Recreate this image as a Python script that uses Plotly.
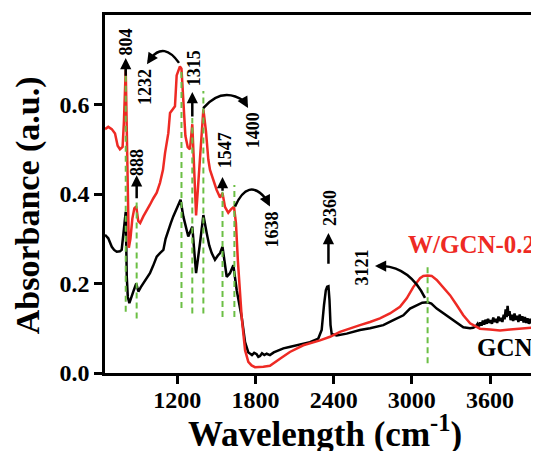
import plotly.graph_objects as go

# ---------------- data ----------------
wn_gcn = [645, 670, 697, 715, 735, 760, 773, 786, 804, 812, 820, 832, 851, 866, 885, 901, 920, 939,
          965, 990, 1015, 1042, 1067, 1093, 1110, 1131, 1150, 1169, 1200, 1225, 1246, 1265, 1284,
          1315, 1330, 1344, 1374, 1400, 1426, 1445, 1464, 1489, 1510, 1528, 1547, 1560, 1579, 1604,
          1630, 1656, 1694, 1720, 1745, 1760, 1773, 1790, 1809, 1822, 1835, 1850, 1868, 1886, 1911,
          1940, 1975, 2014, 2060, 2116, 2170, 2218, 2282, 2308, 2326, 2340, 2350, 2360, 2368, 2376,
          2385, 2423, 2500, 2550, 2602, 2679, 2781, 2858, 2935, 2986, 3037, 3080, 3121, 3150, 3191,
          3242, 3293, 3344, 3395, 3447, 3470, 3490, 3505, 3515, 3525, 3535, 3545, 3555, 3565, 3575,
          3585, 3595, 3605, 3615, 3625, 3635, 3645, 3655, 3665, 3675, 3685, 3695, 3705, 3712, 3720,
          3728, 3735, 3742, 3750, 3758, 3768, 3778, 3788, 3798, 3808, 3818, 3828, 3838, 3848, 3858,
          3868, 3878, 3888, 3898, 3910, 3920, 3932, 3945, 3958, 3970]
abs_gcn = [0.309, 0.301, 0.282, 0.275, 0.271, 0.272, 0.275, 0.305, 0.360, 0.215, 0.170, 0.156, 0.170,
           0.185, 0.200, 0.182, 0.192, 0.200, 0.210, 0.223, 0.240, 0.260, 0.268, 0.275, 0.300, 0.320,
           0.335, 0.350, 0.372, 0.387, 0.350, 0.330, 0.305, 0.327, 0.270, 0.223, 0.290, 0.353, 0.312,
           0.285, 0.268, 0.253, 0.262, 0.268, 0.282, 0.250, 0.215, 0.223, 0.241, 0.185, 0.125, 0.069,
           0.046, 0.043, 0.040, 0.045, 0.042, 0.036, 0.038, 0.044, 0.040, 0.043, 0.040, 0.046, 0.051,
           0.055, 0.058, 0.062, 0.066, 0.069, 0.077, 0.096, 0.152, 0.185, 0.193, 0.194, 0.163, 0.107,
           0.087, 0.084, 0.088, 0.092, 0.096, 0.100, 0.107, 0.118, 0.129, 0.144, 0.152, 0.157, 0.158,
           0.155, 0.144, 0.133, 0.122, 0.111, 0.102, 0.100, 0.101, 0.104, 0.110, 0.104, 0.113, 0.106,
           0.117, 0.108, 0.119, 0.110, 0.121, 0.112, 0.118, 0.110, 0.124, 0.114, 0.121, 0.112, 0.126,
           0.116, 0.123, 0.114, 0.130, 0.120, 0.142, 0.125, 0.150, 0.128, 0.138, 0.118, 0.130, 0.116,
           0.133, 0.119, 0.128, 0.114, 0.131, 0.117, 0.127, 0.113, 0.125, 0.112, 0.122, 0.110, 0.121,
           0.111, 0.118, 0.109, 0.115, 0.108]

wn_wgcn = [645, 670, 697, 722, 742, 760, 780, 790, 804, 812, 820, 828, 840, 855, 870, 885, 900, 915,
           939, 965, 990, 1015, 1042, 1067, 1090, 1106, 1131, 1144, 1165, 1182, 1195, 1220, 1232,
           1246, 1262, 1280, 1297, 1315, 1328, 1344, 1360, 1374, 1400, 1420, 1438, 1451, 1476, 1502,
           1528, 1547, 1566, 1591, 1610, 1635, 1650, 1665, 1694, 1720, 1745, 1770, 1796, 1830, 1860,
           1911, 1963, 1988, 2064, 2167, 2295, 2372, 2448, 2525, 2602, 2679, 2755, 2832, 2909, 2961,
           3011, 3063, 3088, 3121, 3152, 3191, 3242, 3293, 3344, 3395, 3447, 3523, 3600, 3677, 3754,
           3856, 3958]
abs_wgcn = [0.545, 0.550, 0.545, 0.535, 0.508, 0.500, 0.505, 0.560, 0.678, 0.520, 0.360, 0.280, 0.300,
            0.345, 0.368, 0.372, 0.340, 0.335, 0.350, 0.362, 0.376, 0.390, 0.403, 0.425, 0.454, 0.492,
            0.536, 0.581, 0.590, 0.596, 0.665, 0.685, 0.680, 0.611, 0.530, 0.505, 0.500, 0.556, 0.448,
            0.352, 0.420, 0.477, 0.589, 0.540, 0.477, 0.454, 0.432, 0.409, 0.392, 0.402, 0.371, 0.358,
            0.365, 0.372, 0.335, 0.250, 0.125, 0.051, 0.025, 0.017, 0.013, 0.013, 0.014, 0.016, 0.028,
            0.032, 0.047, 0.062, 0.073, 0.081, 0.092, 0.100, 0.107, 0.114, 0.122, 0.133, 0.148, 0.167,
            0.192, 0.212, 0.217, 0.218, 0.217, 0.208, 0.192, 0.174, 0.152, 0.129, 0.111, 0.099, 0.097,
            0.095, 0.097, 0.100, 0.102]

# marked peaks
peak_labels = ["804", "888", "1232", "1315", "1400", "1547", "1638", "3121"]
peak_wn = [804, 888, 1232, 1315, 1400, 1547, 1638, 3121]
dash_bottom = [0.137, 0.122, 0.145, 0.133, 0.133, 0.125, 0.125, 0.022]
dash_top = [0.680, 0.385, 0.680, 0.570, 0.630, 0.405, 0.420, 0.240]

# label positions (data units)
label_text = ["804", "888", "1232", "1315", "1400", "1547", "1638", "2360", "3121"]
label_x = [804, 896, 952, 1323, 1783, 1566, 1924, 2372, 2615]
label_y = [0.740, 0.471, 0.639, 0.682, 0.543, 0.498, 0.320, 0.369, 0.235]

# straight arrows: x, tail y, tip y
arrow_x = [804, 888, 1315, 1547, 2360]
arrow_tail = [0.661, 0.387, 0.570, 0.404, 0.241]
arrow_tip = [0.704, 0.442, 0.628, 0.438, 0.313]

# curved arrows: start, control, end, head tip (data), head tail offset (px)
curve_start = [(1213, 0.693), (1399, 0.592), (1643, 0.372), (3101, 0.168)]
curve_ctrl = [(1098, 0.740), (1543, 0.641), (1743, 0.438), (2986, 0.235)]
curve_end = [(998, 0.704), (1712, 0.608), (1881, 0.389), (2779, 0.239)]
head_tip = [(967, 0.690), (1743, 0.592), (1911, 0.372), (2717, 0.239)]
head_off = [(4, -6), (-4, -7), (-4, -8), (8, 0)]

y_ticks = [0.0, 0.2, 0.4, 0.6]
x_ticks = [1200, 1800, 2400, 3000, 3600]

FONT = "Liberation Serif"
RED = "#EE2A24"
GREEN = "#6CBF45"

fig = go.Figure()
fig.add_trace(go.Scatter(x=wn_gcn, y=abs_gcn, mode="lines",
                         line=dict(color="black", width=2.5), showlegend=False))
fig.add_trace(go.Scatter(x=wn_wgcn, y=abs_wgcn, mode="lines",
                         line=dict(color=RED, width=2.5), showlegend=False))

dx, dy = [], []
for p, b, t in zip(peak_wn, dash_bottom, dash_top):
    dx += [p, p, None]
    dy += [b, t, None]
fig.add_trace(go.Scatter(x=dx, y=dy, mode="lines",
                         line=dict(color=GREEN, width=2, dash="6px,4px"), showlegend=False))

ann = []
for t, x, y in zip(label_text, label_x, label_y):
    ann.append(dict(x=x, y=y, xref="x", yref="y", text=t, showarrow=False, textangle=-90,
                    font=dict(family=FONT, size=18, color="black", weight="bold")))
for x, y0, y1 in zip(arrow_x, arrow_tail, arrow_tip):
    ann.append(dict(x=x, y=y1, ax=x, ay=y0, xref="x", yref="y", axref="x", ayref="y", text="",
                    showarrow=True, arrowhead=2, arrowsize=0.9, arrowwidth=2.5, arrowcolor="black"))
shapes = []
for s, c, e, h, o in zip(curve_start, curve_ctrl, curve_end, head_tip, head_off):
    shapes.append(dict(type="path", xref="x", yref="y",
                       path=f"M {s[0]},{s[1]} Q {c[0]},{c[1]} {e[0]},{e[1]}",
                       line=dict(color="black", width=2.5)))
    ann.append(dict(x=h[0], y=h[1], ax=o[0], ay=o[1], xref="x", yref="y", text="",
                    showarrow=True, arrowhead=2, arrowsize=0.9, arrowwidth=2.5, arrowcolor="black"))

ann.append(dict(x=3460, y=0.288, xref="x", yref="y", text="W/GCN-0.2", showarrow=False,
                font=dict(family=FONT, size=25, color=RED, weight="bold")))
ann.append(dict(x=3715, y=0.058, xref="x", yref="y", text="GCN", showarrow=False,
                font=dict(family=FONT, size=25, color="black", weight="bold")))
# axis titles
ann.append(dict(x=-0.177, y=0.469, xref="paper", yref="paper", text="Absorbance (a.u.)",
                showarrow=False, textangle=-90, xanchor="center", yanchor="middle",
                font=dict(family=FONT, size=34, color="black", weight="bold")))
ann.append(dict(x=0.507, y=-0.163, xref="paper", yref="paper", text="Wavelength (cm<sup>-1</sup>)",
                showarrow=False, xanchor="center", yanchor="middle",
                font=dict(family=FONT, size=35, color="black", weight="bold")))

axis_common = dict(showline=True, linewidth=2.5, linecolor="black", ticks="outside", ticklen=8,
                   tickwidth=2.5, tickcolor="black", showgrid=False, zeroline=False, automargin=False,
                   tickfont=dict(family=FONT, size=24, color="black", weight="bold"))
# the page body has an 8px margin, so the figure is sized/offset to compensate
fig.update_layout(
    width=531, height=443, margin=dict(l=97, r=0, t=7, b=78),
    plot_bgcolor="white", paper_bgcolor="white",
    xaxis=dict(range=[645, 3976], tickvals=x_ticks, mirror=True, ticklabelstandoff=-5, **axis_common),
    yaxis=dict(range=[0, 0.8], tickvals=y_ticks, tickformat=".1f", mirror=False, **axis_common),
    annotations=ann, shapes=shapes,
)
fig.write_html("out.html")
